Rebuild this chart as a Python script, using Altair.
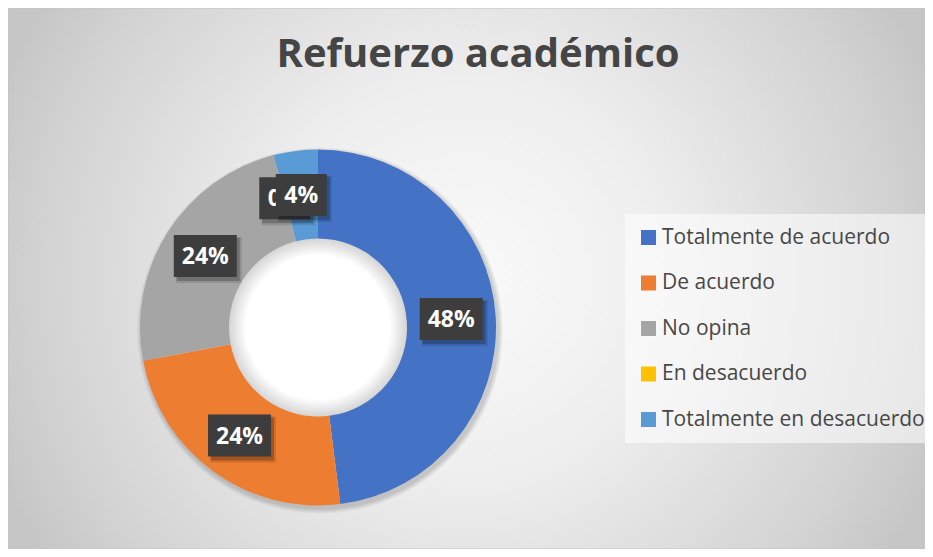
import math
import altair as alt
import pandas as pd

# ---- data ----
categories = ["Totalmente de acuerdo", "De acuerdo", "No opina", "En desacuerdo", "Totalmente en desacuerdo"]
percents = [48, 24, 24, 0, 4]
colors = ["#4472C4", "#ED7D31", "#A5A5A5", "#FFC000", "#5B9BD5"]
title_text = "Refuerzo académico"

# ---- layout ----
W, H = 917, 541
CX, CY = 310, 319.5
R_OUT, R_IN = 178, 89
R_LAB = (R_OUT + R_IN) / 2
FONT = "Open Sans"

df = pd.DataFrame({"cat": categories, "pct": percents, "idx": list(range(len(categories)))})
one = pd.DataFrame({"a": [0]})

bg = alt.Chart(one).mark_rect(
    fill=alt.Gradient(
        gradient="radial",
        stops=[
            alt.GradientStop(color="#fafafa", offset=0),
            alt.GradientStop(color="#eeeeee", offset=0.4),
            alt.GradientStop(color="#d2d2d2", offset=0.85),
            alt.GradientStop(color="#c6c6c6", offset=1),
        ],
        x1=0.5, y1=0.5, x2=0.5, y2=0.5, r1=0, r2=0.55,
    ),
    stroke="#c4c4c4",
    strokeWidth=1,
).encode(x=alt.value(0), x2=alt.value(W), y=alt.value(0), y2=alt.value(H))

# white hole with soft inner shading
hole = alt.Chart(one).mark_arc(
    theta=0, theta2=2 * math.pi, radius=R_IN + 2, radius2=0, color="#ffffff"
).encode(x=alt.value(CX), y=alt.value(CY))

deco = [hole]
for k in range(1, 9):
    deco.append(
        alt.Chart(one).mark_arc(
            theta=0, theta2=2 * math.pi, radius=R_IN + 1, radius2=R_IN - 2 * k,
            color="black", opacity=0.018,
        ).encode(x=alt.value(CX), y=alt.value(CY))
    )
# soft outer shadow of the ring
for k in range(1, 6):
    deco.append(
        alt.Chart(one).mark_arc(
            theta=0, theta2=2 * math.pi, radius=R_OUT + k, radius2=R_OUT - 10,
            color="black", opacity=0.035,
        ).encode(x=alt.value(CX + 2), y=alt.value(CY + 3))
    )

donut = alt.Chart(df).mark_arc(radius=R_OUT, radius2=R_IN).encode(
    theta=alt.Theta("pct:Q", stack=True),
    order=alt.Order("idx:Q"),
    color=alt.Color(
        "cat:N",
        sort=categories,
        scale=alt.Scale(domain=categories, range=colors),
        legend=alt.Legend(
            title=None, orient="none", legendX=617, legendY=206,
            symbolType="square", symbolSize=225, symbolStrokeWidth=0, symbolOpacity=1,
            labelFont=FONT, labelFontSize=21, labelColor="#474747", labelOffset=3, labelLimit=400,
            rowPadding=23.5, padding=13, fillColor="rgba(255,255,255,0.55)",
        ),
    ),
    x=alt.value(CX),
    y=alt.value(CY),
)

lab_base = alt.Chart(df).transform_window(
    cum="sum(pct)", sort=[alt.SortField("idx")], frame=[None, 0]
).transform_joinaggregate(
    total="sum(pct)"
).transform_calculate(
    ang="2*PI*(datum.cum - datum.pct/2)/datum.total",
    lx=f"{CX} + {R_LAB}*sin(datum.ang)",
    ly=f"{CY} - {R_LAB}*cos(datum.ang)",
    label="datum.pct + '%'",
    hw="13.5 + 6*length(datum.label)",
    bx1="datum.lx - datum.hw",
    bx2="datum.lx + datum.hw",
    by1="datum.ly - 21",
    by2="datum.ly + 21",
)

label_layers = []
for c in categories:
    b = lab_base.transform_filter(alt.datum.cat == c)
    enc_rect = dict(
        x=alt.X("bx1:Q", scale=None, axis=None),
        x2="bx2:Q",
        y=alt.Y("by1:Q", scale=None, axis=None),
        y2="by2:Q",
    )
    label_layers.append(
        b.mark_rect(color="black", opacity=0.12, xOffset=2, x2Offset=5, yOffset=2, y2Offset=6).encode(**enc_rect)
    )
    label_layers.append(
        b.mark_rect(color="black", opacity=0.22, xOffset=3, x2Offset=3, yOffset=3, y2Offset=4).encode(**enc_rect)
    )
    label_layers.append(b.mark_rect(color="#3d3d3d").encode(**enc_rect))
    label_layers.append(
        b.mark_text(font=FONT, fontWeight="bold", fontSize=23, color="white",
                    align="center", baseline="middle", dy=1).encode(
            x=alt.X("lx:Q", scale=None, axis=None),
            y=alt.Y("ly:Q", scale=None, axis=None),
            text="label:N",
        )
    )

title = alt.Chart(pd.DataFrame({"t": [title_text]})).mark_text(
    font=FONT, fontWeight="bold", fontSize=40, color="#454545",
    align="center", baseline="alphabetic",
).encode(text="t:N", x=alt.value(470), y=alt.value(59))

chart = alt.layer(bg, *deco, donut, *label_layers, title).properties(
    width=W, height=H, autosize="none", padding=0,
).configure_view(stroke=None)

chart.save("out.html", embed_options={"renderer": "svg", "actions": False})
